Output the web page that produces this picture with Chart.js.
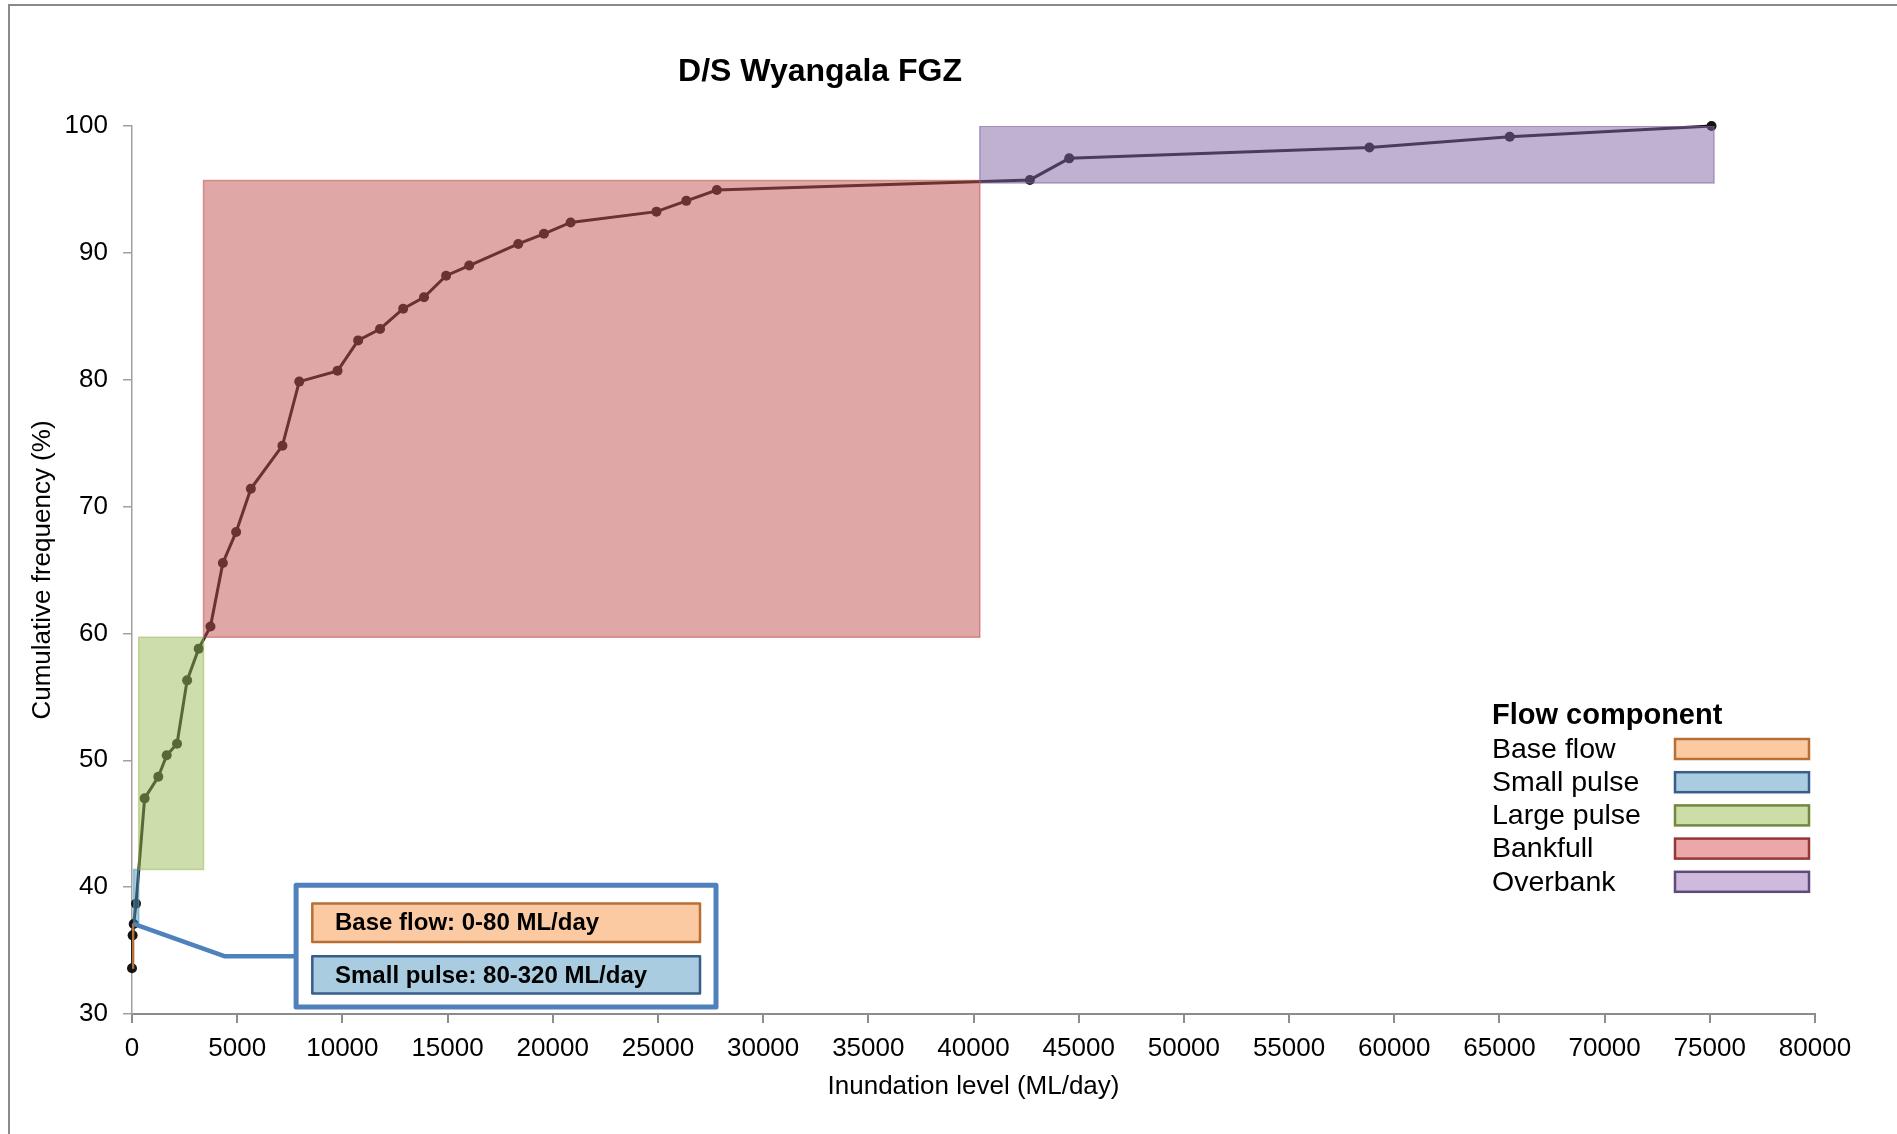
<!DOCTYPE html>
<html>
<head>
<meta charset="utf-8">
<script src="https://cdn.jsdelivr.net/npm/chart.js@4.4.0/dist/chart.umd.min.js"></script>
<style>
  html, body { margin: 0; padding: 0; background: #fff; }
  #wrap { width: 1897px; height: 1134px; }
</style>
</head>
<body>
<div id="wrap"><canvas id="chart" width="1897" height="1134"></canvas></div>
<script>
// inundation level (ML/day) vs cumulative frequency (%)
const flowX = [0, 30, 80, 190, 600, 1250, 1650, 2140, 2620, 3170, 3730, 4320, 4950, 5650, 7150, 7950,
  9770, 10750, 11790, 12890, 13880, 14930, 16030, 18360, 19580, 20850, 24930, 26350, 27800,
  42680, 44550, 58820, 65490, 75080];
const freqY = [33.6, 36.2, 37.1, 38.7, 47.0, 48.7, 50.4, 51.3, 56.3, 58.8, 60.55, 65.55, 68.0, 71.4, 74.8, 79.85,
  80.7, 83.1, 84.0, 85.6, 86.5, 88.2, 89.0, 90.7, 91.5, 92.4, 93.25, 94.1, 94.95,
  95.75, 97.45, 98.3, 99.15, 100.0];

// flow component boxes
const componentNames = ['Base flow', 'Small pulse', 'Large pulse', 'Bankfull', 'Overbank'];
const componentX0 = [0, 80, 320, 3400, 40300];
const componentX1 = [80, 320, 3400, 40300, 75200];
const componentY0 = [33.6, 37.1, 41.4, 59.7, 95.5];
const componentY1 = [37.1, 41.4, 59.7, 95.7, 100];
const componentRGB = ['247,150,70', '85,153,191', '155,187,89', '192,80,77', '128,100,162'];
const swatchFill = ['#fbcaa2', '#aacce0', '#ccdda8', '#eca8a8', '#cdbadc'];
const componentEdge = ['#b86f35', '#385d8a', '#71893f', '#953735', '#5f4a7e'];

const calloutLabels = ['Base flow: 0-80 ML/day', 'Small pulse: 80-320 ML/day'];

const xTicks = { min: 0, max: 80000, step: 5000 };
const yTicks = { min: 30, max: 100, step: 10 };

const FONT = "'Liberation Sans', Arial, sans-serif";
const rgba = (rgb, a) => `rgba(${rgb},${a})`;

const boxDatasets = componentNames.map((name, i) => ({
  label: name,
  data: [
    { x: componentX0[i], y: componentY0[i] },
    { x: componentX0[i], y: componentY1[i] },
    { x: componentX1[i], y: componentY1[i] },
    { x: componentX1[i], y: componentY0[i] },
    { x: componentX0[i], y: componentY0[i] }
  ],
  showLine: true,
  fill: 'shape',
  backgroundColor: rgba(componentRGB[i], 0.5),
  borderColor: rgba(componentRGB[i], 0.55),
  borderWidth: 1.5,
  pointRadius: 0,
  order: 1
}));

const lineDataset = {
  label: 'Cumulative frequency',
  data: flowX.map((x, i) => ({ x, y: freqY[i] })),
  showLine: true,
  fill: false,
  borderColor: '#141414',
  borderWidth: 3,
  pointRadius: 5,
  pointBackgroundColor: '#141414',
  pointBorderWidth: 0,
  clip: false,
  order: 2
};

const decorations = {
  id: 'decorations',
  beforeDraw(chart) {
    const ctx = chart.ctx;
    ctx.save();
    ctx.fillStyle = '#fff';
    ctx.fillRect(0, 0, chart.width, chart.height);
    ctx.strokeStyle = '#8a8a8a';
    ctx.lineWidth = 2;
    ctx.strokeRect(9, 5, chart.width + 20, chart.height + 20);
    ctx.restore();
  },
  afterDraw(chart) {
    const ctx = chart.ctx;
    const xs = chart.scales.x, ys = chart.scales.y;
    const px = v => xs.getPixelForValue(v);
    const py = v => ys.getPixelForValue(v);
    ctx.save();

    // chart title
    ctx.fillStyle = '#000';
    ctx.font = `bold 32px ${FONT}`;
    ctx.textAlign = 'center';
    ctx.textBaseline = 'middle';
    ctx.fillText('D/S Wyangala FGZ', 820, 72);

    // legend
    ctx.textAlign = 'left';
    ctx.font = `bold 29px ${FONT}`;
    ctx.fillText('Flow component', 1492, 716);
    ctx.font = `28.5px ${FONT}`;
    componentNames.forEach((name, i) => {
      const cy = 749 + i * 33.2;
      ctx.fillStyle = '#000';
      ctx.fillText(name, 1492, cy + 1);
      ctx.fillStyle = swatchFill[i];
      ctx.fillRect(1675, cy - 10, 134, 20);
      ctx.strokeStyle = componentEdge[i];
      ctx.lineWidth = 2.5;
      ctx.strokeRect(1675, cy - 10, 134, 20);
    });

    // callout for base flow / small pulse
    const blue = '#4f81bd';
    ctx.strokeStyle = blue;
    ctx.lineWidth = 4.5;
    ctx.lineJoin = 'round';
    ctx.beginPath();
    ctx.moveTo(px(componentX1[0]), py(componentY1[0]));
    ctx.lineTo(px(4420), py(34.55));
    ctx.lineTo(px(7800), py(34.55));
    ctx.stroke();

    const bx0 = px(7800), bx1 = px(27760), by0 = py(40.15), by1 = py(30.55);
    ctx.fillStyle = '#fff';
    ctx.fillRect(bx0, by0, bx1 - bx0, by1 - by0);
    ctx.lineWidth = 5;
    ctx.strokeRect(bx0, by0, bx1 - bx0, by1 - by0);

    const inner = [[38.71, 35.68], [34.55, 31.61]];
    ctx.font = `bold 24px ${FONT}`;
    inner.forEach(([t, b], i) => {
      const x0 = px(8570), x1 = px(27000), y0 = py(t), y1 = py(b);
      ctx.fillStyle = swatchFill[i];
      ctx.fillRect(x0, y0, x1 - x0, y1 - y0);
      ctx.strokeStyle = componentEdge[i];
      ctx.lineWidth = 2.5;
      ctx.strokeRect(x0, y0, x1 - x0, y1 - y0);
      ctx.fillStyle = '#000';
      ctx.fillText(calloutLabels[i], px(9650), (y0 + y1) / 2 + 1);
    });
    ctx.restore();
  }
};

new Chart(document.getElementById('chart'), {
  type: 'scatter',
  data: { datasets: [lineDataset, ...boxDatasets] },
  options: {
    responsive: false,
    animation: false,
    events: [],
    layout: { padding: { left: 27, top: 126, right: 82, bottom: 32 } },
    plugins: { legend: { display: false }, tooltip: { enabled: false }, title: { display: false } },
    scales: {
      x: {
        type: 'linear',
        min: xTicks.min, max: xTicks.max,
        ticks: {
          stepSize: xTicks.step, autoSkip: false, maxRotation: 0, padding: 10,
          color: '#000', font: { family: FONT, size: 26 },
          callback: v => String(v)
        },
        grid: { drawOnChartArea: false, tickLength: 9, color: '#8c8c8c', lineWidth: 2 },
        border: { color: '#8c8c8c', width: 2 },
        title: { display: true, text: 'Inundation level (ML/day)', color: '#000', padding: 0, font: { family: FONT, size: 26 } },
        afterFit: s => { s.height = 88; }
      },
      y: {
        type: 'linear',
        min: yTicks.min, max: yTicks.max,
        ticks: {
          stepSize: yTicks.step, padding: 15,
          color: '#000', font: { family: FONT, size: 26 },
          callback: v => String(v)
        },
        grid: { drawOnChartArea: false, tickLength: 9, color: '#a0a0a0', lineWidth: 1.5 },
        border: { color: '#a0a0a0', width: 1.5 },
        title: { display: true, text: 'Cumulative frequency (%)', color: '#000', padding: 0, font: { family: FONT, size: 26 } },
        afterFit: s => { s.width = 105; }
      }
    }
  },
  plugins: [decorations]
});
</script>
</body>
</html>
